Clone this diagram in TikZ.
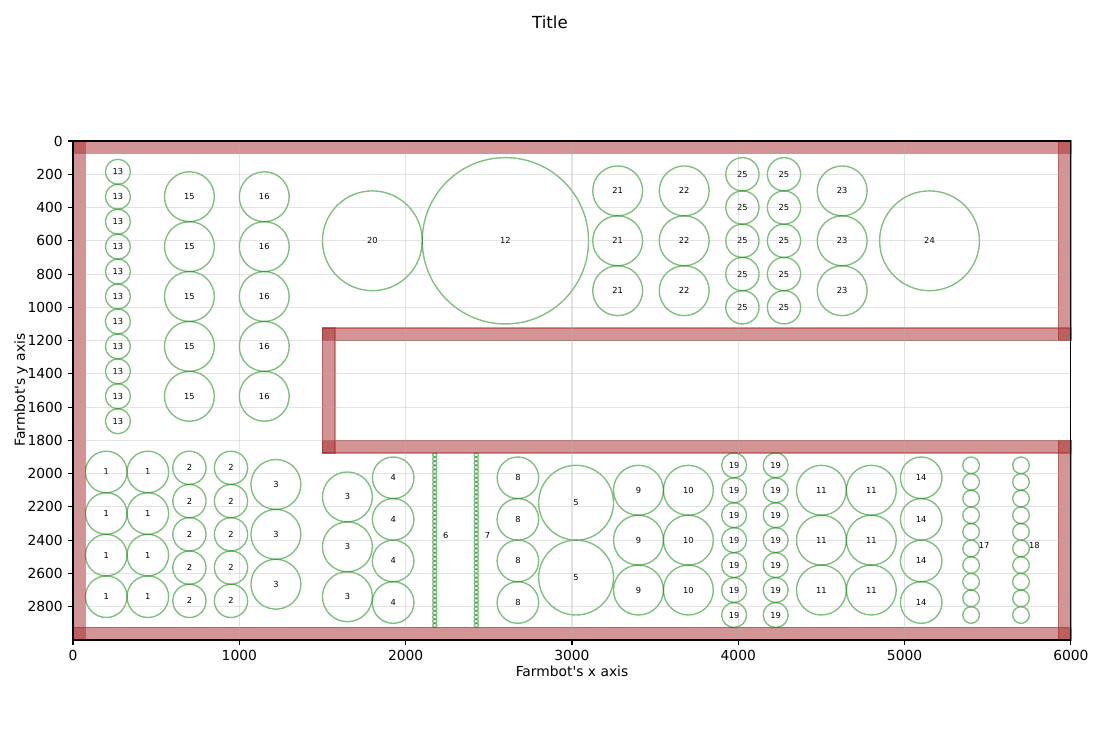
\documentclass[tikz,border=0pt]{standalone}
\usepackage{fontspec}
\setmainfont{DejaVu Sans}[Ligatures=TeXOff]
\usepackage{tikz}
\definecolor{wallred}{HTML}{A52A2A}
\definecolor{plantgreen}{HTML}{008000}
\definecolor{gridgray}{HTML}{B0B0B0}

\begin{document}
\begin{tikzpicture}[
    x=0.72bp, y=-0.72bp,
    wall/.style={fill=wallred, draw=wallred, fill opacity=0.5, draw opacity=0.5, line width=1pt},
    plant/.style={draw=plantgreen, draw opacity=0.5, line width=1pt},
    lbl/.style={font=\fontsize{6}{7}\selectfont, inner sep=0pt},
    ticklbl/.style={font=\fontsize{10}{12}\selectfont, inner sep=0pt},
    gridline/.style={draw=gridgray, draw opacity=0.35, line width=0.8pt}]
  \useasboundingbox (0,0) rectangle (1100,750);
  \node[font=\fontsize{12}{14}\selectfont] (title) at (550,22) {Title};
  \begin{scope}[shift={(73,141)}, x=0.119758bp, y=-0.119758bp]
    % walls
    \draw[wall] (0,0) rectangle (6000,75);
    \draw[wall] (0,2925) rectangle (6000,3000);
    \draw[wall] (0,0) rectangle (75,3000);
    \draw[wall] (5925,0) rectangle (6000,1200);
    \draw[wall] (5925,1800) rectangle (6000,3000);
    \draw[wall] (1500,1125) rectangle (6000,1200);
    \draw[wall] (1500,1800) rectangle (6000,1875);
    \draw[wall] (1500,1125) rectangle (1575,1875);
    % plant columns: x / first y / step / last index / radius / id
    \foreach \gx/\gy/\gd/\gn/\gr/\gt [count=\g] in {
        270/185/150/10/75/13, 700/335/300/4/150/15, 1150/335/300/4/150/16,
        1800/600/0/0/300/20, 2600/600/0/0/500/12, 3275/300/300/2/150/21,
        3675/300/300/2/150/22, 4025/200/200/4/100/25, 4275/200/200/4/100/25,
        4625/300/300/2/150/23, 5150/600/0/0/300/24,
        200/1990/250/3/125/1, 450/1990/250/3/125/1, 700/1965/200/4/100/2,
        950/1965/200/4/100/2, 1220/2065/300/2/150/3, 1650/2140/300/2/150/3,
        1925/2025/250/3/125/4, 2675/2025/250/3/125/8, 3025/2175/450/1/225/5,
        3400/2100/300/2/150/9, 3700/2100/300/2/150/10, 3975/1950/150/6/75/19,
        4225/1950/150/6/75/19, 4500/2100/300/2/150/11, 4800/2100/300/2/150/11,
        5100/2025/250/3/125/14}
      \foreach \k in {0,...,\gn}
        \draw[plant] (\gx,\gy+\gd*\k) circle[radius=\gr] node[lbl] (p\g-\k) {\gt};
    % dense rows, one label each
    \foreach \gx/\gy/\gd/\gn/\gr in {2175/1887.5/25/41/12.5, 2425/1887.5/25/41/12.5,
        5400/1950/100/9/50, 5700/1950/100/9/50}
      \foreach \k in {0,...,\gn}
        \draw[plant] (\gx,\gy+\gd*\k) circle[radius=\gr];
    \node[lbl] (l6) at (2241,2371) {6};
    \node[lbl] (l7) at (2493,2371) {7};
    \node[lbl] (l17) at (5479,2430) {17};
    \node[lbl] (l18) at (5781,2430) {18};
    % grid, frame, ticks
    \foreach \v in {0,1000,...,6000}
      \draw[gridline] (\v,0) -- (\v,3000);
    \foreach \v in {0,200,...,2800}
      \draw[gridline] (0,\v) -- (6000,\v);
    \draw[line width=0.8pt] (0,0) rectangle (6000,3000);
    \foreach \v in {0,1000,...,6000}
      \draw[line width=0.8pt] (\v,3000) -- ++(0,-3.5pt)
        node[ticklbl, below=3.5pt] (xt\v) {\v};
    \foreach \v in {0,200,...,2800}
      \draw[line width=0.8pt] (0,\v) -- ++(-3.5pt,0)
        node[ticklbl, left=3.5pt] (yt\v) {\v};
  \end{scope}
  \node[ticklbl] (xlab) at (572,671) {Farmbot's x axis};
  \node[ticklbl, rotate=90] (ylab) at (21,390) {Farmbot's y axis};
\end{tikzpicture}
\end{document}
